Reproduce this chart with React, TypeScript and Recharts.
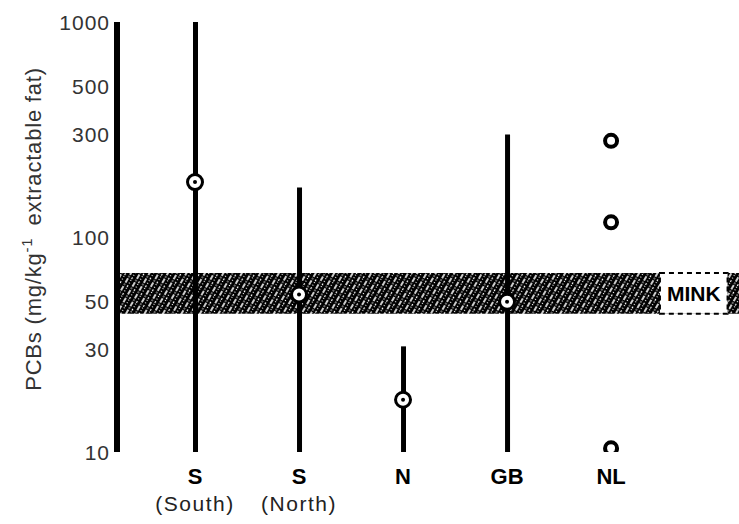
import React from "react";
import { ComposedChart, Bar, Scatter, XAxis, YAxis, ReferenceArea } from "recharts";

// categories along the x axis (numeric positions so spacing can be matched)
const positions = [1, 2, 3, 4, 5];
const categories = ["S", "S", "N", "GB", "NL"];
const subLabels = ["(South)", "(North)", "", "", ""];

// PCB ranges (mg/kg extractable fat) and medians
const rangeLow = [10, 10, 10, 10, null];
const rangeHigh = [1000, 170, 31, 300, null];
const medians = [180, 54, 17.5, 50, null];

// NL single observations
const nlX = 5;
const nlValues = [280, 117, 10.4];

const yTicks = [10, 30, 50, 100, 300, 500, 1000];

// mink effect band
const minkLow = 44;
const minkHigh = 68;
const minkBoxX = [5.47, 6.12];

const FONT = '"Liberation Sans", Arial, sans-serif';

const rangeData = positions.map((x, i) => ({
  x,
  range: rangeLow[i] != null ? [rangeLow[i], rangeHigh[i]] : null,
}));

const medianData = positions
  .map((x, i) => ({ x, y: medians[i] }))
  .filter((d) => d.y != null);

const nlData = nlValues.map((y) => ({ x: nlX, y }));

function XTick(props: any) {
  const { x, y, payload } = props;
  const i = positions.indexOf(payload.value);
  return (
    <g>
      <text x={x} y={y + 24} textAnchor="middle" fontFamily={FONT} fontWeight="bold" fontSize={22} fill="#000">
        {categories[i]}
      </text>
      {subLabels[i] ? (
        <text
          x={x}
          y={y + 51}
          textAnchor="middle"
          fontFamily={FONT}
          fontSize={21}
          letterSpacing={1.5}
          fill="#222"
        >
          {subLabels[i]}
        </text>
      ) : null}
    </g>
  );
}

function YTick(props: any) {
  const { x, y, payload } = props;
  return (
    <text x={x + 1} y={y} dy="0.36em" textAnchor="end" fontFamily={FONT} fontSize={21} letterSpacing={1} fill="#333">
      {payload.value}
    </text>
  );
}

function YLabel(props: any) {
  const { viewBox } = props;
  const cx = viewBox.x + 41;
  const cy = viewBox.y + viewBox.height / 2 - 8;
  return (
    <text
      x={cx}
      y={cy}
      transform={`rotate(-90, ${cx}, ${cy})`}
      textAnchor="middle"
      fontFamily={FONT}
      fontSize={22}
      letterSpacing={0.8}
      fill="#333"
    >
      PCBs (mg/kg
      <tspan dy={-9} fontSize={15}>-1</tspan>
      <tspan dy={9} dx={12}>extractable fat)</tspan>
    </text>
  );
}

function MinkLabel(props: any) {
  const { viewBox } = props;
  return (
    <text
      x={viewBox.x + viewBox.width / 2}
      y={viewBox.y + viewBox.height / 2}
      dy="0.36em"
      textAnchor="middle"
      fontFamily={FONT}
      fontWeight="bold"
      fontSize={21}
      fill="#000"
    >
      MINK
    </text>
  );
}

function Target(props: any) {
  const { cx, cy } = props;
  return (
    <g>
      <circle cx={cx} cy={cy} r={7.5} fill="#fff" stroke="#000" strokeWidth={3} />
      <circle cx={cx} cy={cy} r={2} fill="#000" />
    </g>
  );
}

function Ring(props: any) {
  const { cx, cy } = props;
  return <circle cx={cx} cy={cy} r={6} fill="#fff" stroke="#000" strokeWidth={4} />;
}

export default function App() {
  return (
    <div style={{ position: "absolute", left: 0, top: 0, background: "#fff" }}>
      <ComposedChart
        width={739}
        height={524}
        data={rangeData}
        margin={{ top: 22, right: 0, bottom: 0, left: 0 }}
      >
        <defs>
          <pattern id="hatch" patternUnits="userSpaceOnUse" width={8} height={9} patternTransform="rotate(30)">
            <rect width={8} height={9} fill="#000" />
            <line x1={2} y1={0} x2={2} y2={9} stroke="#fff" strokeWidth={1.6} strokeDasharray="2 1.5 1 1.5 3" />
            <line x1={5.5} y1={0} x2={5.5} y2={9} stroke="#fff" strokeWidth={1.2} strokeDasharray="1 2 2 1 1 2" />
          </pattern>
        </defs>
        <XAxis
          type="number"
          dataKey="x"
          domain={[0.25, 6.23]}
          ticks={positions}
          interval={0}
          allowDataOverflow
          axisLine={false}
          tickLine={false}
          height={72}
          tick={<XTick />}
        />
        <YAxis
          type="number"
          scale="log"
          domain={[10, 1000]}
          ticks={yTicks}
          interval={0}
          allowDataOverflow
          width={117}
          axisLine={{ stroke: "#000", strokeWidth: 6 }}
          tickLine={false}
          tick={<YTick />}
          label={<YLabel />}
        />
        <ReferenceArea y1={minkLow} y2={minkHigh} fill="url(#hatch)" fillOpacity={1} stroke="none" />
        <ReferenceArea
          x1={minkBoxX[0]}
          x2={minkBoxX[1]}
          y1={minkLow}
          y2={minkHigh}
          fill="#fff"
          fillOpacity={1}
          stroke="#000"
          strokeWidth={2}
          strokeDasharray="5 4"
          label={<MinkLabel />}
        />
        <Bar dataKey="range" fill="#000" barSize={5} isAnimationActive={false} />
        <Scatter data={medianData} dataKey="y" shape={<Target />} isAnimationActive={false} />
        <Scatter data={nlData} dataKey="y" shape={<Ring />} isAnimationActive={false} />
      </ComposedChart>
    </div>
  );
}
